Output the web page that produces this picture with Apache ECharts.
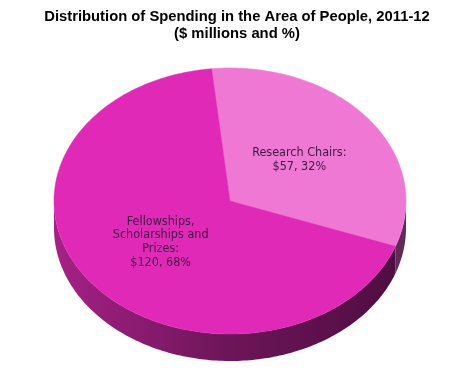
<!DOCTYPE html>
<html><head><meta charset="utf-8">
<script src="https://cdn.jsdelivr.net/npm/echarts@6/dist/echarts.min.js"></script>
<style>html,body{margin:0;padding:0;background:#fff}#c{width:474px;height:370px}</style>
</head><body><div id="c"></div>
<script>
const titleText = 'Distribution of Spending in the Area of People, 2011-12';
const subtitleText = '($ millions and %)';
const categories = ['Research Chairs', 'Fellowships, Scholarships and Prizes'];
const values = [57, 120];
const percents = [32, 68];
const labelLines = [
  ['Research Chairs:', '$57, 32%'],
  ['Fellowships,', 'Scholarships and', 'Prizes:', '$120, 68%']
];

const topColors = ['#EF78D4', '#E029B6'];
const sideColors = [
  [{offset:0,color:'#8A3C7C'},{offset:1,color:'#5E2A58'}],
  [{offset:0,color:'#A52186'},{offset:0.5,color:'#6C1558'},{offset:1,color:'#4E0D40'}]
];

const CX = 230, CY = 201, RX = 176, RY = 133, DEPTH = 27, START = -96;
const total = values.reduce((a, b) => a + b, 0);

function pt(deg, dy) {
  const r = deg * Math.PI / 180;
  return [CX + RX * Math.cos(r), CY + RY * Math.sin(r) + (dy || 0)];
}
function arc(a, b, dy) {
  const pts = [];
  const n = Math.max(2, Math.ceil(Math.abs(b - a)));
  for (let k = 0; k <= n; k++) pts.push(pt(a + (b - a) * k / n, dy));
  return pts;
}

const chart = echarts.init(document.getElementById('c'), null, {renderer: 'canvas'});
chart.setOption({
  backgroundColor: '#ffffff',
  animation: false,
  title: {
    text: titleText + '\n' + subtitleText,
    left: 'center', top: 3,
    textStyle: {fontFamily: 'Liberation Sans', fontWeight: 'bold', fontSize: 14.8, color: '#000', lineHeight: 17}
  },
  series: [{
    type: 'custom',
    coordinateSystem: 'none',
    data: categories.map((c, i) => ({name: c, value: values[i]})),
    renderItem: function (params, api) {
      const i = params.dataIndex;
      let before = 0;
      for (let k = 0; k < i; k++) before += values[k];
      const a0 = START + before / total * 360;
      const a1 = a0 + api.value(0) / total * 360;
      const children = [];
      [[0, 180], [360, 540]].forEach(function (rng) {
        const s = Math.max(a0, rng[0]), e = Math.min(a1, rng[1]);
        if (e > s) {
          const topArc = arc(s, e, 0);
          const botArc = arc(e, s, DEPTH);
          children.push({
            type: 'polygon', z2: 1,
            shape: {points: topArc.concat(botArc)},
            style: {fill: {type: 'linear', x: CX - RX, y: 0, x2: CX + RX, y2: 0, global: true, colorStops: sideColors[i]}}
          });
        }
      });
      children.push({
        type: 'polygon', z2: 2,
        shape: {points: [[CX, CY]].concat(arc(a0, a1, 0))},
        style: {fill: topColors[i], stroke: topColors[i], lineWidth: 0.5}
      });
      const mid = (a0 + a1) / 2;
      const lp = [CX + RX * 0.5 * Math.cos(mid * Math.PI / 180), CY + RY * 0.5 * Math.sin(mid * Math.PI / 180)];
      children.push({
        type: 'text', z2: 10,
        x: lp[0], y: lp[1],
        style: {
          text: labelLines[i].join('\n'),
          fill: '#3a1a40', fontSize: 12.5, fontFamily: 'DejaVu Sans Condensed, DejaVu Sans',
          lineHeight: 13.7, align: 'center', verticalAlign: 'middle'
        }
      });
      return {type: 'group', children: children};
    }
  }]
});
</script>
</body></html>
